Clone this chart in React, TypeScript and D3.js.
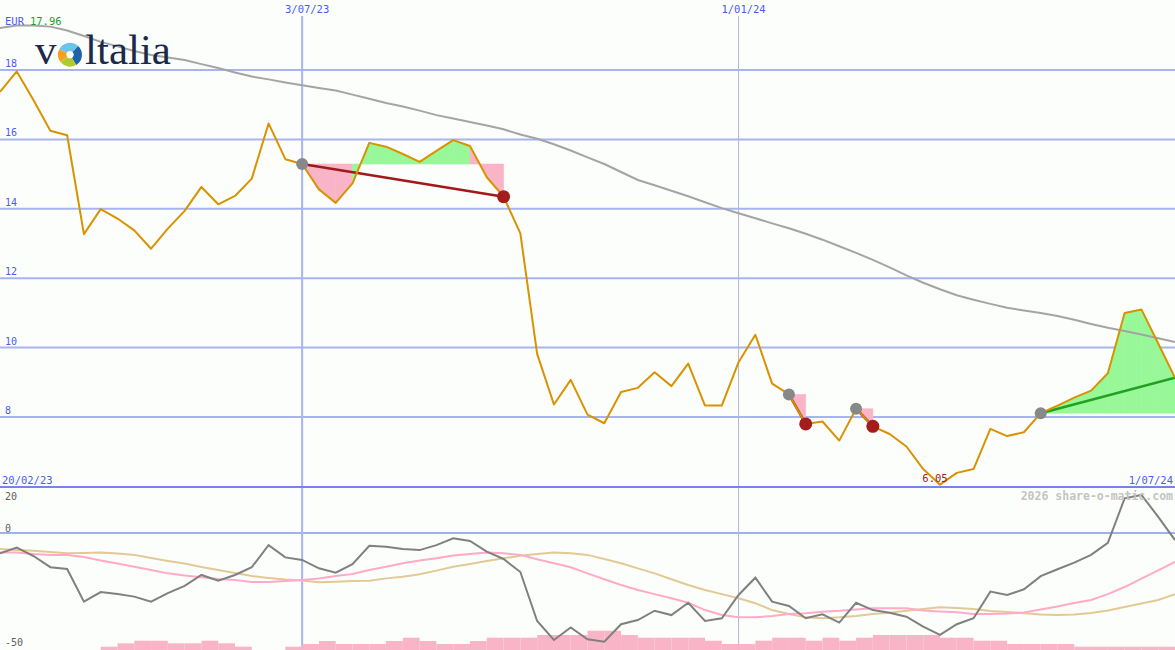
import React from "react";
import * as d3 from "d3";

const W = 1175;
const H = 650;

// weekly closing prices (EUR)
const price = [
  17.37, 17.96, 17.13, 16.25, 16.12, 13.27, 13.99, 13.72, 13.38, 12.85,
  13.43, 13.94, 14.63, 14.13, 14.37, 14.87, 16.46, 15.43, 15.29, 14.56,
  14.17, 14.73, 15.9, 15.79, 15.58, 15.35, 15.67, 15.98, 15.81, 14.91,
  14.35, 13.29, 9.82, 8.36, 9.07, 8.07, 7.82, 8.72, 8.84, 9.29,
  8.89, 9.54, 8.33, 8.33, 9.58, 10.37, 8.96, 8.65, 7.8, 7.87,
  7.32, 8.24, 7.73, 7.51, 7.15, 6.5, 6.05, 6.39, 6.5, 7.66,
  7.45, 7.56, 8.11, 8.33, 8.56, 8.76, 9.26, 11.0, 11.1, 10.12,
  9.13,
];

// long moving average (grey)
const movingAvg = [
  19.21, 19.28, 19.28, 19.25, 19.14, 18.98, 18.81, 18.68, 18.55, 18.43,
  18.36, 18.29, 18.17, 18.06, 17.93, 17.81, 17.73, 17.64, 17.56, 17.48,
  17.41, 17.29, 17.17, 17.05, 16.95, 16.83, 16.7, 16.6, 16.5, 16.4,
  16.29, 16.14, 16.02, 15.86, 15.68, 15.48, 15.29, 15.06, 14.83, 14.68,
  14.52, 14.36, 14.19, 14.02, 13.87, 13.73, 13.58, 13.44, 13.28, 13.11,
  12.92, 12.73, 12.53, 12.31, 12.08, 11.87, 11.68, 11.51, 11.38, 11.26,
  11.15, 11.07, 11.0, 10.91, 10.8, 10.68, 10.57, 10.48, 10.38, 10.27,
  10.16,
];

// oscillator (grey) and its two smoothings (pink, tan)
const oscillator = [
  -8.9, -6.4, -10.1, -15.0, -15.8, -30.1, -25.9, -26.8, -27.9, -30.1,
  -26.4, -23.2, -18.4, -20.9, -18.4, -15.0, -5.3, -10.7, -11.8, -15.5,
  -17.4, -13.7, -5.6, -6.0, -7.0, -7.5, -5.3, -2.3, -3.5, -8.2,
  -11.4, -17.1, -38.6, -46.9, -41.4, -46.6, -47.7, -40.0, -38.2, -34.1,
  -36.0, -30.6, -38.6, -37.4, -27.2, -19.6, -30.1, -32.0, -37.4, -35.7,
  -39.3, -30.6, -33.8, -35.0, -36.7, -41.1, -44.7, -40.0, -37.4, -25.7,
  -27.2, -24.7, -18.9, -15.9, -13.0, -9.6, -4.3, 15.2, 16.7, 7.1,
  -3.1,
];

const oscFast = [
  -8.6, -8.6, -9.2, -9.6, -9.6, -10.5, -12.1, -13.4, -14.8, -16.2,
  -17.7, -18.6, -19.4, -20.2, -20.6, -21.5, -21.5, -21.1, -20.6, -20.0,
  -18.9, -18.0, -16.2, -14.8, -13.3, -12.1, -11.1, -9.9, -9.2, -8.6,
  -8.9, -9.6, -11.5, -13.3, -15.0, -17.7, -20.3, -22.8, -25.0, -26.8,
  -28.6, -30.6, -33.8, -36.0, -37.0, -37.0, -36.4, -35.5, -35.2, -34.5,
  -34.1, -33.5, -33.0, -33.0, -33.0, -34.0, -34.4, -34.8, -35.5, -35.5,
  -35.3, -34.9, -33.6, -32.2, -30.7, -29.4, -26.8, -23.7, -20.0, -16.4,
  -12.7,
];

const oscSlow = [
  -7.0, -7.5, -7.8, -8.3, -8.9, -8.8, -8.6, -9.0, -9.6, -11.0,
  -12.3, -13.4, -14.9, -16.2, -17.5, -18.9, -19.7, -20.4, -20.8, -21.6,
  -21.4, -21.1, -20.9, -19.9, -19.2, -18.1, -16.5, -14.8, -13.6, -12.3,
  -11.1, -10.0, -9.2, -8.6, -8.9, -9.6, -11.4, -13.3, -15.5, -17.7,
  -20.3, -22.8, -25.0, -26.8, -28.6, -30.8, -33.8, -35.5, -37.0, -37.4,
  -37.0, -36.4, -35.5, -35.0, -34.1, -33.3, -32.6, -32.9, -33.3, -34.2,
  -34.6, -35.2, -35.7, -36.0, -35.7, -35.1, -34.0, -32.5, -30.9, -29.4,
  -26.8,
];

// weekly volume (thousands)
const volume = [
  0, 0, 0, 0, 0, 0, 33, 67, 93, 93,
  67, 67, 93, 67, 33, 0, 0, 33, 60, 90,
  60, 60, 60, 90, 123, 90, 60, 60, 90, 123,
  123, 123, 150, 150, 150, 193, 193, 150, 123, 123,
  123, 123, 93, 60, 60, 93, 123, 123, 93, 123,
  93, 123, 150, 150, 150, 150, 123, 123, 93, 93,
  60, 60, 60, 60, 33, 33, 33, 33, 33, 33,
];

const priceTicks = [8, 10, 12, 14, 16, 18];
const oscTickLabels = [
  { v: 20, label: "20" },
  { v: 0, label: "0" },
  { v: -50, label: "-50" },
];
const dateMarks = [
  { idx: 18, label: "3/07/23", strong: true },
  { idx: 44, label: "1/01/24", strong: false },
];
const startLabel = "20/02/23";
const endLabel = "1/07/24";

const tradeEntries = [18, 47, 51, 62];
const tradeExits: (number | null)[] = [30, 48, 52, null];

const MONO = "'DejaVu Sans Mono', monospace";

export default function App() {
  const n = price.length;
  const x = d3.scaleLinear().domain([0, n - 1]).range([0, W]);
  const y = d3.scaleLinear().domain([8, 18]).range([417, 70]);
  const yo = d3.scaleLinear().domain([-50, 20]).range([647, 487.4]);
  const yv = d3.scaleLinear().domain([0, 200]).range([650, 630]);

  const pLine = d3
    .line<number>()
    .x((_, i) => x(i))
    .y((d) => y(d));
  const oLine = d3
    .line<number>()
    .x((_, i) => x(i))
    .y((d) => yo(d));

  const fills: { pts: [number, number][]; color: string }[] = [];
  const tradeLines: { x1: number; y1: number; x2: number; y2: number; color: string }[] = [];
  tradeEntries.forEach((e, k) => {
    const ex = tradeExits[k];
    const end = ex === null ? n - 1 : ex;
    const level = price[e];
    for (let i = e; i < end; i++) {
      fills.push({
        pts: [
          [x(i), y(level)],
          [x(i), y(price[i])],
          [x(i + 1), y(price[i + 1])],
          [x(i + 1), y(level)],
        ],
        color: price[i + 1] > level ? "#98f898" : "#fab4c8",
      });
    }
    tradeLines.push({
      x1: x(e),
      y1: y(price[e]),
      x2: x(end),
      y2: y(price[end]),
      color: ex === null ? "#22a022" : "#a01a1a",
    });
  });

  const minIdx = d3.minIndex(price);
  const cx = 70;
  const cy = 54.7;
  const r = 12;
  const arc = d3.arc<any>();
  const wedges = [
    { a0: -1.1, a1: 0.75, c: "#6cc4ea" },
    { a0: 0.75, a1: 2.6, c: "#1f63aa" },
    { a0: 2.6, a1: 4.05, c: "#b3ca2c" },
    { a0: 4.05, a1: 5.18, c: "#f3a21c" },
  ];

  return (
    <svg
      width={W}
      height={H}
      style={{ position: "fixed", left: 0, top: 0, display: "block" }}
    >
      <rect x={0} y={0} width={W} height={H} fill="#fcfefc" />

      {/* price gridlines */}
      {priceTicks.map((t) => (
        <line key={"g" + t} x1={0} x2={W} y1={y(t)} y2={y(t)} stroke="#a8b4f0" strokeWidth={2} />
      ))}
      {/* oscillator zero line */}
      <line x1={0} x2={W} y1={yo(0)} y2={yo(0)} stroke="#a3aef0" strokeWidth={2} />

      {/* date verticals */}
      {dateMarks.map((d) => (
        <line
          key={"v" + d.idx}
          x1={x(d.idx)}
          x2={x(d.idx)}
          y1={16}
          y2={H}
          stroke={d.strong ? "#a8b4f0" : "#b2b6d8"}
          strokeWidth={d.strong ? 2 : 1}
        />
      ))}

      {/* volume */}
      {volume.map((v, i) =>
        v > 0 ? (
          <rect
            key={"vol" + i}
            x={x(i)}
            y={yv(v)}
            width={x(i + 1) - x(i)}
            height={H - yv(v)}
            fill="#fab4c8"
          />
        ) : null
      )}

      {/* oscillator panel */}
      <path d={oLine(oscSlow) || ""} fill="none" stroke="#e3c994" strokeWidth={2} />
      <path d={oLine(oscFast) || ""} fill="none" stroke="#ffaac8" strokeWidth={2} />
      <path d={oLine(oscillator) || ""} fill="none" stroke="#808080" strokeWidth={2} />

      {/* panel separator */}
      <line x1={0} x2={W} y1={487} y2={487} stroke="#7484ea" strokeWidth={2} />

      {/* trade fills */}
      {fills.map((f, i) => (
        <polygon
          key={"f" + i}
          points={f.pts.map((p) => p.join(",")).join(" ")}
          fill={f.color}
          stroke={f.color}
          strokeWidth={0.6}
        />
      ))}

      {/* moving average */}
      <path d={pLine(movingAvg) || ""} fill="none" stroke="#a4a4a4" strokeWidth={2} />

      {/* trade lines (under the price) */}
      {tradeLines.map((t, i) => (
        <line key={"t" + i} x1={t.x1} y1={t.y1} x2={t.x2} y2={t.y2} stroke={t.color} strokeWidth={2.5} />
      ))}

      {/* price */}
      <path d={pLine(price) || ""} fill="none" stroke="#d99200" strokeWidth={2} strokeLinejoin="round" />

      {/* trade markers */}
      {tradeEntries.map((e) => (
        <circle key={"en" + e} cx={x(e)} cy={y(price[e])} r={6} fill="#888888" />
      ))}
      {tradeExits.map((e, i) =>
        e === null ? null : (
          <circle key={"ex" + i} cx={x(e)} cy={y(price[e])} r={6.5} fill="#a51c1c" />
        )
      )}

      {/* labels */}
      {priceTicks.map((t) => (
        <text key={"l" + t} x={5} y={y(t) - 3} fontFamily={MONO} fontSize={10} fill="#4a5cf0">
          {t}
        </text>
      ))}
      <text x={5} y={25} fontFamily={MONO} fontSize={10.5}>
        <tspan fill="#4a5cf0">EUR</tspan>
        <tspan dx={6} fill="#22a022">{price[1].toFixed(2)}</tspan>
      </text>
      {dateMarks.map((d) => (
        <text
          key={"dl" + d.idx}
          x={x(d.idx) + 5}
          y={13}
          textAnchor="middle"
          fontFamily={MONO}
          fontSize={10.5}
          fill="#4a5cf0"
        >
          {d.label}
        </text>
      ))}
      <text x={2} y={483.5} fontFamily={MONO} fontSize={10.5} fill="#4a5cf0">
        {startLabel}
      </text>
      <text x={1173} y={483.5} textAnchor="end" fontFamily={MONO} fontSize={10.5} fill="#4a5cf0">
        {endLabel}
      </text>
      <text
        x={x(minIdx) - 5}
        y={482}
        textAnchor="middle"
        fontFamily={MONO}
        fontSize={10.5}
        fill="#a01a1a"
      >
        {price[minIdx].toFixed(2)}
      </text>
      <text
        x={1173}
        y={500}
        textAnchor="end"
        fontFamily={MONO}
        fontSize={11.5}
        fontWeight="bold"
        fill="#c4c4c4"
      >
        2026 share-o-matic.com
      </text>
      {oscTickLabels.map((o) => (
        <text
          key={"o" + o.v}
          x={5}
          y={o.v === 20 ? 500 : o.v === 0 ? 531.5 : 646}
          fontFamily={MONO}
          fontSize={10}
          fill="#606060"
        >
          {o.label}
        </text>
      ))}

      {/* logo */}
      <text x={35} y={64} fontFamily="'Liberation Serif', serif" fontSize={43} fill="#1b2a48">
        v<tspan x={59.5}>o</tspan>
        <tspan x={85}>ltalia</tspan>
      </text>
      <g transform={`translate(${cx},${cy})`}>
        <circle r={r + 0.5} fill="#fcfefc" />
        {wedges.map((w, i) => (
          <path
            key={"w" + i}
            d={arc({ innerRadius: 3.5, outerRadius: r, startAngle: w.a0, endAngle: w.a1 }) || ""}
            fill={w.c}
          />
        ))}
        <circle r={3.5} fill="#ffffff" />
      </g>
    </svg>
  );
}
